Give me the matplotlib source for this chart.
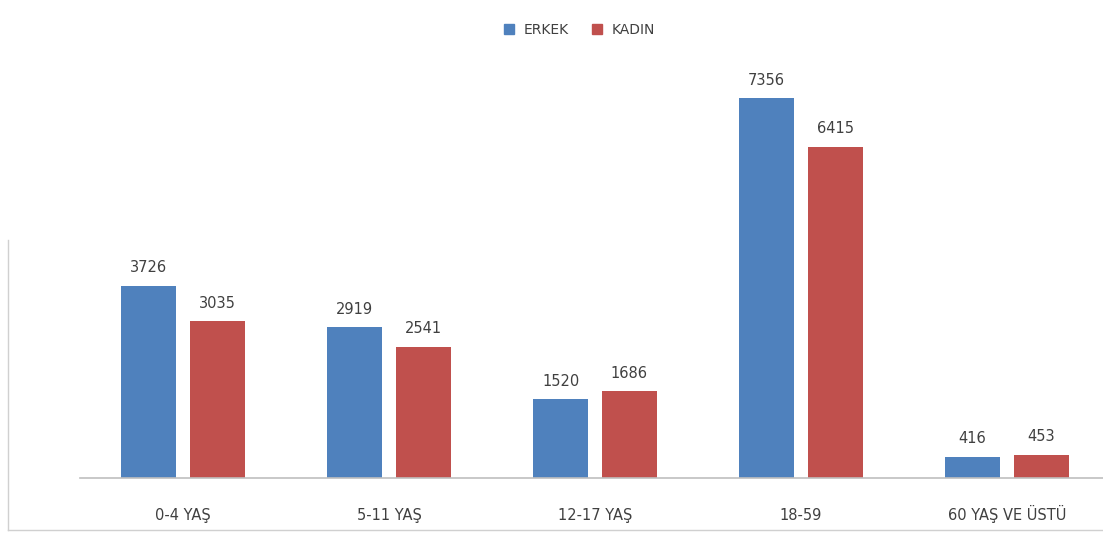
import numpy as np
import matplotlib.pyplot as plt
from matplotlib.lines import Line2D

groups = ['0-4 YAŞ', '5-11 YAŞ', '12-17 YAŞ', '18-59', '60 YAŞ VE ÜSTÜ']
erkek = [3726, 2919, 1520, 7356, 416]
kadin = [3035, 2541, 1686, 6415, 453]

blue = '#4F81BD'
red = '#C0504D'
txt = '#404040'

fig = plt.figure(figsize=(11.03, 5.36), dpi=100)
ax = fig.add_axes([80/1103, (536-478)/536, (1103-80)/1103, (478-60)/536])

x = np.arange(len(groups))
w = 0.267
off = 0.167
b1 = ax.bar(x - off, erkek, w, color=blue)
b2 = ax.bar(x + off, kadin, w, color=red)

for bars, vals in ((b1, erkek), (b2, kadin)):
    for b, v in zip(bars, vals):
        ax.text(b.get_x() + b.get_width()/2, v + 200, str(v), ha='center', va='bottom',
                fontsize=10.5, color=txt)

ax.set_xlim(-0.5, 4.466)
ax.set_ylim(0, 8091)
ax.set_yticks([])
ax.set_xticks([])
# category labels on a common baseline
for xi, g in zip(x, groups):
    ax.text(xi, -0.1, g, transform=ax.get_xaxis_transform(), ha='center', va='baseline',
            fontsize=10.5, color=txt)
for s in ['top', 'right', 'left']:
    ax.spines[s].set_visible(False)
ax.spines['bottom'].set_color('#bfbfbf')
ax.spines['bottom'].set_linewidth(1.2)

handles = [Line2D([], [], marker='s', ls='', color=blue, markersize=7),
           Line2D([], [], marker='s', ls='', color=red, markersize=7)]
fig.legend(handles, ['ERKEK', 'KADIN'], loc='center', bbox_to_anchor=(575/1103, 1 - 30/536),
           ncol=2, frameon=False, fontsize=10, handletextpad=0.1, columnspacing=1.0,
           labelcolor=txt)

# faint image border at left and bottom
fig.add_artist(Line2D([8/1103, 8/1103], [6/536, 1 - 240/536], color='#d0d0d0', lw=1))
fig.add_artist(Line2D([8/1103, 1], [6/536, 6/536], color='#d0d0d0', lw=1))

plt.savefig('out.png')
